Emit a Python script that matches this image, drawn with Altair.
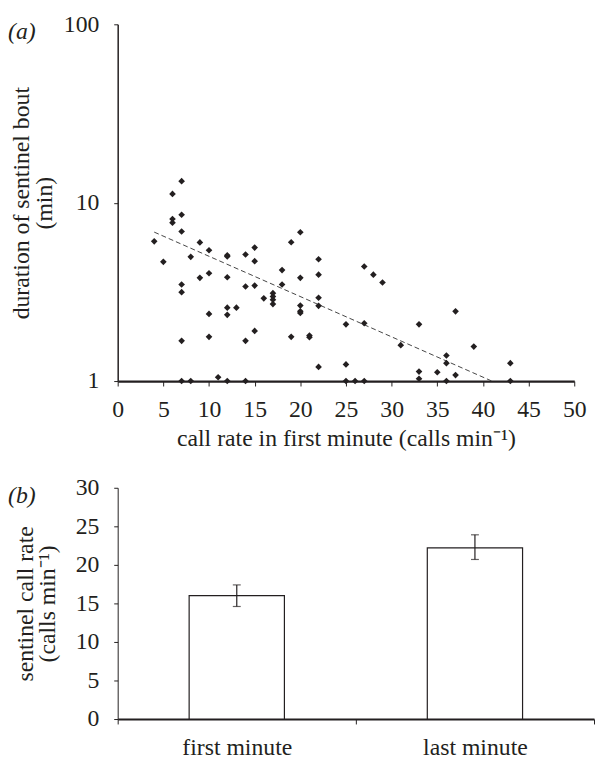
import altair as alt
import pandas as pd

# ---- panel (a): call rate in first minute vs duration of sentinel bout ----
call_rate = [4, 5, 6, 6, 6, 7, 7, 7, 8, 7, 7, 7, 7, 8,
             9, 9, 10, 10, 10, 10, 11, 12, 12, 12, 12, 12, 12, 13,
             14, 14, 14, 14, 15, 15, 15, 15, 16, 17, 17, 17, 17,
             18, 18, 19, 19, 20, 20, 20, 20, 20,
             21, 21, 22, 22, 22, 22, 22, 25, 25, 25, 26, 27, 27, 27,
             28, 29, 31, 33, 33, 33, 35, 36, 36, 36, 37, 37, 39, 43, 43]
duration = [6.07, 4.66, 11.2, 8.10, 7.73, 13.2, 8.56, 6.89, 4.97, 3.48, 3.15, 1.68, 1.0, 1.0,
            5.99, 3.79, 5.41, 4.02, 2.38, 1.77, 1.05, 5.07, 5.00, 3.82, 2.58, 2.35, 1.0, 2.58,
            5.12, 3.39, 1.68, 1.0, 5.60, 4.70, 3.43, 1.91, 2.91, 3.11, 2.98, 2.86, 2.70,
            4.19, 3.48, 6.00, 1.77, 6.83, 3.79, 2.65, 2.46, 2.41,
            1.80, 1.76, 4.82, 3.95, 2.93, 2.64, 1.20, 2.08, 1.24, 1.0, 1.0, 4.39, 2.11, 1.0,
            3.95, 3.57, 1.59, 2.08, 1.13, 1.03, 1.12, 1.39, 1.26, 1.0, 2.46, 1.08, 1.56, 1.26, 1.0]
trend_rate = [4, 43]
trend_duration = [6.84, 0.90]
x_ticks = [0, 5, 10, 15, 20, 25, 30, 35, 40, 45, 50]
y_ticks = [1, 10, 100]

# ---- panel (b): sentinel call rate, first vs last minute ----
periods = ["first minute", "last minute"]
mean_rate = [16.0, 22.2]
rate_lo = [14.6, 20.7]
rate_hi = [17.4, 23.9]
bar_ticks = [0, 5, 10, 15, 20, 25, 30]

FONT = "Liberation Serif"
FS = 24
INK = "#231f20"

pts = pd.DataFrame({"rate": call_rate, "dur": duration})
trend = pd.DataFrame({"rate": trend_rate, "dur": trend_duration})
bars_df = pd.DataFrame({"period": periods, "mean": mean_rate, "lo": rate_lo, "hi": rate_hi})

xs = alt.Scale(domain=[0, 50], nice=False, zero=False)
ys = alt.Scale(type="log", domain=[1, 100], nice=False)

x_axis_a = alt.Axis(values=x_ticks, title="call rate in first minute (calls min⁻¹)",
                    grid=False, tickSize=5, labelPadding=12, titlePadding=5,
                    domainWidth=2.2, labelFlush=False, labelOverlap=False)
y_axis_a = alt.Axis(values=y_ticks, format="d", title=["duration of sentinel bout", "(min)"],
                    grid=False, tickSize=4, labelPadding=15, titlePadding=7,
                    domainWidth=1.5, titleLineHeight=23, labelFlush=False,
                    labelOverlap=False)

trend_line = alt.Chart(trend).mark_line(strokeDash=[5, 3], strokeWidth=1, color="#444",
                                        clip=True).encode(
    x=alt.X("rate:Q", scale=xs, axis=x_axis_a),
    y=alt.Y("dur:Q", scale=ys, axis=y_axis_a),
)
scatter = alt.Chart(pts).mark_point(shape="diamond", filled=True, size=45, color=INK,
                                    opacity=1).encode(
    x=alt.X("rate:Q", scale=xs, axis=x_axis_a),
    y=alt.Y("dur:Q", scale=ys, axis=y_axis_a),
)
top = alt.layer(trend_line, scatter).properties(
    width=462, height=361,
    title=alt.TitleParams("(a)", anchor="start", frame="bounds", fontStyle="italic",
                          fontWeight="normal", font=FONT, fontSize=FS, color=INK,
                          offset=0, dx=-2, dy=32),
)

x_scale_b = alt.Scale(domain=periods, paddingInner=0, paddingOuter=0)
x_axis_b = alt.Axis(title=None, labelAngle=0, tickBand="extent", tickSize=5,
                    labelPadding=12, domainWidth=2, grid=False)
y_scale_b = alt.Scale(domain=[0, 30], nice=False)
y_axis_b = alt.Axis(values=bar_ticks, title=["sentinel call rate", "(calls min⁻¹)"],
                    grid=False, tickSize=4, labelPadding=15, titlePadding=16,
                    domainWidth=1, titleLineHeight=22, labelFlush=False,
                    labelOverlap=False)


def xb():
    return alt.X("period:N", sort=periods, scale=x_scale_b, axis=x_axis_b)


def yb(field):
    return alt.Y(field, type="quantitative", scale=y_scale_b, axis=y_axis_b)


bars = alt.Chart(bars_df).mark_bar(fill="white", stroke=INK, strokeWidth=1.2,
                                   width=alt.RelativeBandSize(0.4)).encode(x=xb(), y=yb("mean"))
err = alt.Chart(bars_df).mark_rule(color=INK, strokeWidth=1.2).encode(
    x=xb(), y=yb("lo"), y2="hi:Q")
cap_lo = alt.Chart(bars_df).mark_tick(color=INK, size=8, thickness=1.2).encode(
    x=xb(), y=yb("lo"))
cap_hi = alt.Chart(bars_df).mark_tick(color=INK, size=8, thickness=1.2).encode(
    x=xb(), y=yb("hi"))

bottom = alt.layer(bars, err, cap_lo, cap_hi).properties(
    width=482, height=234,
    title=alt.TitleParams("(b)", anchor="start", frame="bounds", fontStyle="italic",
                          fontWeight="normal", font=FONT, fontSize=FS, color=INK,
                          offset=0, dx=-6, dy=32),
)

chart = alt.vconcat(top, bottom, spacing=26).properties(
    padding={"left": 0, "top": 0, "right": 0, "bottom": 0}
).configure_view(stroke=None).configure_axis(
    labelFont=FONT, titleFont=FONT, labelFontSize=FS, titleFontSize=FS,
    labelColor=INK, titleColor=INK, titleFontWeight="normal",
    domainColor=INK, tickColor=INK, tickWidth=1,
)

chart.save("out.html", embed_options={"renderer": "svg", "actions": False})
